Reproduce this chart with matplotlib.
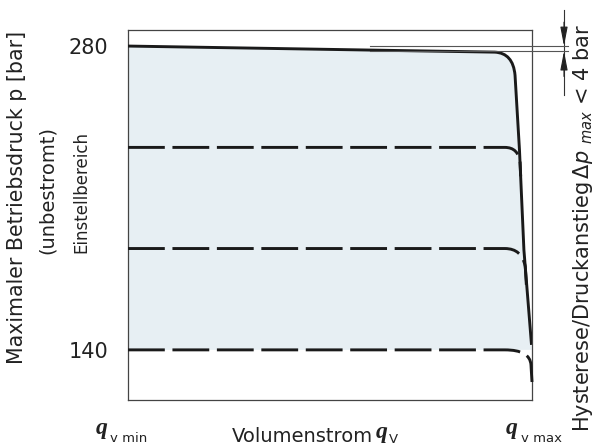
import matplotlib
matplotlib.use('Agg')
import matplotlib.pyplot as plt
from matplotlib.path import Path
from matplotlib.patches import PathPatch

plt.rcParams['font.family'] = ['DejaVu Sans']
plt.rcParams['lines.scale_dashes'] = False
plt.rcParams['mathtext.fontset'] = 'dejavusans'

M, L, C = Path.MOVETO, Path.LINETO, Path.CURVE3

# Volumenstrom als Anteil von q_v max (0..1), Druck in bar
kl_q = [0.0, 0.908, 0.953, 0.958, 0.969, 0.980, 0.9988]
kl_p = [280.0, 277.2, 276.8, 266.6, 232.1, 186.0, 142.3]
kl_codes = [M, L, C, C, L, L, L]

# gestrichelte Kennlinien im Einstellbereich
stufen_q = [
    [0.0, 0.933, 0.966, 0.9705, 0.972],
    [0.0, 0.933, 0.975, 0.9833, 0.986],
    [0.0, 0.933, 0.995, 0.9975, 1.0],
]
stufen_p = [
    [233.3, 233.3, 233.3, 226.4, 220.0],
    [186.7, 186.7, 186.7, 178.4, 170.0],
    [140.0, 140.0, 140.0, 133.1, 125.2],
]
stufen_codes = [M, L, C, C, L]

# Hysterese-Band oben
hyst_p = [280.0, 277.7]

yticks = [140, 280]
farbe_bereich = '#e7eff3'
schwarz = '#1a1a1a'

W, H = 594, 446
fig = plt.figure(figsize=(W / 100, H / 100), dpi=100)
ax = fig.add_axes([128 / W, 1 - 400 / H, 404 / W, 370 / H])
ax.set_xlim(0, 1)
ax.set_ylim(116.9, 287.4)


def px(x, y):
    return x / W, 1 - y / H


# Einstellbereich (Flaeche unter der Kennlinie bis 140 bar)
fl_v = list(zip(kl_q, kl_p)) + [(0.9993, 140.0), (0.0, 140.0), (0.0, 280.0)]
fl_c = kl_codes + [L, L, Path.CLOSEPOLY]
ax.add_patch(PathPatch(Path(fl_v, fl_c), facecolor=farbe_bereich,
                       edgecolor='none', zorder=1))

# Kennlinie bei max. Druck
ax.add_patch(PathPatch(Path(list(zip(kl_q, kl_p)), kl_codes), fill=False,
                       edgecolor=schwarz, lw=2.1, capstyle='butt', zorder=4))

# gestrichelte Kennlinien
for q, p in zip(stufen_q, stufen_p):
    ax.add_patch(PathPatch(Path(list(zip(q, p)), stufen_codes), fill=False,
                           edgecolor=schwarz, lw=2.1, capstyle='butt',
                           linestyle=(0, (26.5, 5.5)), zorder=3,
                           clip_on=False))

# Hysterese-Linien und Pfeile
for p in hyst_p:
    ax.plot([0.6, 1.089], [p, p], color='#555555', lw=0.8, clip_on=False,
            zorder=5)
x_pf = 1.0792
ax.plot([x_pf, x_pf], [296.6, 257.4], color='#333333', lw=0.8,
        clip_on=False)
pf = dict(arrowstyle='-|>,head_length=1.15,head_width=0.22',
          mutation_scale=10, color='#222222', lw=0.8, shrinkA=0, shrinkB=0)
ax.annotate('', xy=(x_pf, hyst_p[0]), xytext=(x_pf, 291.0),
            arrowprops=pf, annotation_clip=False)
ax.annotate('', xy=(x_pf, hyst_p[1]), xytext=(x_pf, 266.0),
            arrowprops=pf, annotation_clip=False)

# Achsen
for s in ax.spines.values():
    s.set_color('#444444')
    s.set_linewidth(0.9)
ax.set_xticks([])
ax.set_yticks(yticks)
ax.set_yticklabels([str(t) for t in yticks])
ax.tick_params(axis='y', length=0, pad=14, labelsize=15, labelcolor='#222222')

tc = '#222222'
fig.text(*px(17, 197), 'Maximaler Betriebsdruck p [bar]', rotation=90,
         ha='center', va='center', fontsize=14.8, color=tc)
fig.text(*px(47, 190), '(unbestromt)', rotation=90,
         ha='center', va='center', fontsize=14, color=tc)
fig.text(*px(81, 192), 'Einstellbereich', rotation=90,
         ha='center', va='center', fontsize=12, color=tc)
fig.text(*px(583, 228),
         r'Hysterese/Druckanstieg$\,\mathit{\Delta p}\ _{\mathit{max}}$ < 4 bar',
         rotation=90, ha='center', va='center', fontsize=15, color=tc)

# Beschriftung der x-Achse
qf = dict(family='Liberation Serif', weight='bold', style='italic',
          fontsize=17, color=tc, va='baseline', ha='left')
fig.text(*px(96, 434), 'q', **qf)
fig.text(*px(110, 441.5), 'v min', fontsize=9.5, color=tc, va='baseline')
fig.text(*px(506, 434), 'q', **qf)
fig.text(*px(521, 441.5), 'v max', fontsize=9.5, color=tc, va='baseline')
vs = fig.text(*px(232, 441.5), 'Volumenstrom', fontsize=14, color=tc,
              va='baseline')
fig.canvas.draw()
x_end = vs.get_window_extent().x1
fig.text((x_end + 3) / W, 1 - 438 / H, 'q', **qf)
fig.text((x_end + 16) / W, 1 - 443 / H, 'V', fontsize=9.5, color=tc,
         va='baseline')

fig.savefig('out.png', dpi=100)
